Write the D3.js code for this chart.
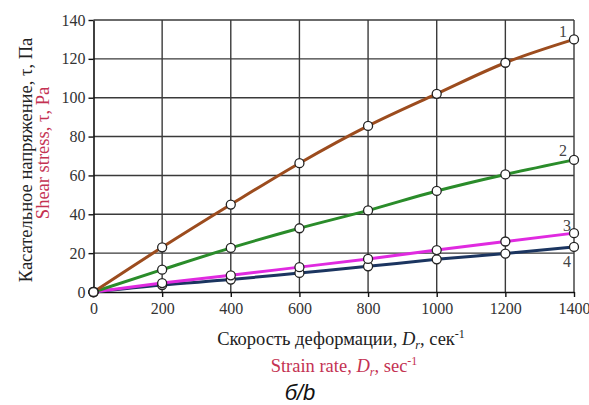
<!DOCTYPE html>
<html>
<head>
<meta charset="utf-8">
<script src="https://cdn.jsdelivr.net/npm/d3@7"></script>
<style>
  body { margin: 0; background: #fff; }
  svg text, svg .tick text { font-family: "Liberation Serif", "Times New Roman", serif; }
</style>
</head>
<body>
<svg id="chart" width="589" height="405"></svg>
<script>
// strain rate, sec^-1
const rates = [0, 200, 400, 600, 800, 1000, 1200, 1400];
// shear stress, Pa, curves 1..4
const curve1 = [0, 23, 45, 66.3, 85.5, 102, 118, 130];
const curve2 = [0, 11.5, 22.7, 32.8, 42, 52, 60.5, 68];
const curve3 = [0, 4.6, 8.6, 12.8, 17, 21.6, 26, 30.3];
const curve4 = [0, 3.6, 6.4, 9.8, 13.2, 16.8, 19.8, 23.2];
const curveNames = ["1", "2", "3", "4"];
const xTicks = [0, 200, 400, 600, 800, 1000, 1200, 1400];
const yTicks = [0, 20, 40, 60, 80, 100, 120, 140];

const colors = ["#9c4c1e", "#2a8c2a", "#e02ae0", "#1b3560"];
const series = [curve1, curve2, curve3, curve4];

const svg = d3.select("#chart");
const plotLeft = 93.5, plotRight = 574, plotTop = 20, plotBottom = 292;

const x = d3.scaleLinear().domain([0, 1400]).range([plotLeft, plotRight]);
const y = d3.scaleLinear().domain([0, 140]).range([plotBottom, plotTop]);

// grid
const grid = svg.append("g").attr("stroke", "#3a3a3a").attr("stroke-width", 1.4);
grid.selectAll(".gx").data(xTicks.slice(1)).enter().append("line")
  .attr("x1", d => x(d)).attr("x2", d => x(d))
  .attr("y1", plotTop).attr("y2", plotBottom);
grid.selectAll(".gy").data(yTicks.slice(1)).enter().append("line")
  .attr("x1", plotLeft).attr("x2", plotRight)
  .attr("y1", d => y(d)).attr("y2", d => y(d));

// axes
const xAxis = svg.append("g")
  .attr("transform", `translate(0, ${plotBottom})`)
  .call(d3.axisBottom(x).tickValues(xTicks).tickFormat(d3.format("d"))
    .tickSize(5).tickSizeOuter(0).tickPadding(6));
const yAxis = svg.append("g")
  .attr("transform", `translate(${plotLeft}, 0)`)
  .call(d3.axisLeft(y).tickValues(yTicks).tickFormat(d3.format("d"))
    .tickSize(5).tickSizeOuter(0).tickPadding(3));
[xAxis, yAxis].forEach(a => {
  a.attr("font-family", "Liberation Serif").attr("font-size", 16);
  a.select(".domain").attr("stroke", "#111").attr("stroke-width", 1.6);
  a.selectAll(".tick line").attr("stroke", "#111").attr("stroke-width", 1.4);
  a.selectAll("text")
    .attr("font-family", "Liberation Serif")
    .attr("fill", "#333");
});

// curves
const line = d3.line()
  .x((d, i) => x(rates[i]))
  .y(d => y(d))
  .curve(d3.curveMonotoneX);

// draw bottom curves first so brown sits on top
[3, 2, 1, 0].forEach(k => {
  svg.append("path")
    .datum(series[k])
    .attr("fill", "none")
    .attr("stroke", colors[k])
    .attr("stroke-width", 3)
    .attr("d", line);
});

[3, 2, 1, 0].forEach(k => {
  svg.append("g").selectAll("circle")
    .data(series[k])
    .enter()
    .append("circle")
    .attr("cx", (d, i) => x(rates[i]))
    .attr("cy", d => y(d))
    .attr("r", 4.5)
    .attr("fill", "#fff")
    .attr("stroke", "#222")
    .attr("stroke-width", 1.3);
});

// curve numbers
const labelOffsets = [[-11, -2], [-11, -4], [-7, -2], [-7, 20]];
series.forEach((s, k) => {
  svg.append("text")
    .attr("x", x(1400) + labelOffsets[k][0])
    .attr("y", y(s[s.length - 1]) + labelOffsets[k][1])
    .attr("text-anchor", "middle")
    .style("font-size", "16px")
    .attr("fill", "#444")
    .text(curveNames[k]);
});

// y axis titles
svg.append("text")
  .attr("transform", "translate(32, 160) rotate(-90)")
  .attr("text-anchor", "middle")
  .style("font-size", "18.5px")
  .attr("fill", "#222")
  .text("Касательное напряжение, τ, Па");
svg.append("text")
  .attr("transform", "translate(49, 153) rotate(-90)")
  .attr("text-anchor", "middle")
  .style("font-size", "18.5px")
  .attr("fill", "#c43252")
  .text("Shear stress, τ, Pa");

// x axis titles
const xt1 = svg.append("text")
  .attr("x", 341).attr("y", 345)
  .attr("text-anchor", "middle")
  .style("font-size", "18.5px")
  .attr("fill", "#222");
xt1.append("tspan").text("Скорость деформации, ");
xt1.append("tspan").style("font-style", "italic").text("D");
xt1.append("tspan").attr("dy", 4).style("font-style", "italic").style("font-size", "12px").text("r");
xt1.append("tspan").attr("dy", -4).text(", сек");
xt1.append("tspan").attr("dy", -7).style("font-size", "12px").text("-1");

const xt2 = svg.append("text")
  .attr("x", 344).attr("y", 372)
  .attr("text-anchor", "middle")
  .style("font-size", "18.5px")
  .attr("fill", "#c43252");
xt2.append("tspan").text("Strain rate, ");
xt2.append("tspan").style("font-style", "italic").text("D");
xt2.append("tspan").attr("dy", 4).style("font-style", "italic").style("font-size", "12px").text("r");
xt2.append("tspan").attr("dy", -4).text(", sec");
xt2.append("tspan").attr("dy", -7).style("font-size", "12px").text("-1");

svg.append("text")
  .attr("x", 300).attr("y", 400)
  .attr("text-anchor", "middle")
  .style("font-family", "'Liberation Sans Narrow', 'Liberation Sans', sans-serif")
  .style("font-style", "italic")
  .style("font-size", "22px")
  .attr("fill", "#111")
  .text("б/b");
</script>
</body>
</html>
